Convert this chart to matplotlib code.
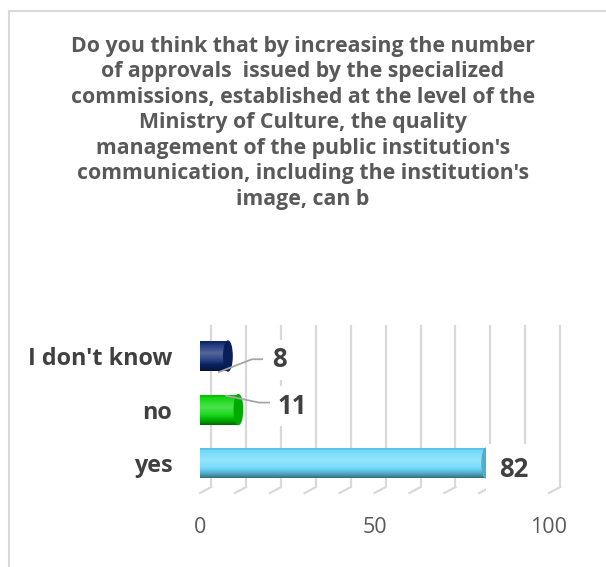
import numpy as np
import matplotlib.pyplot as plt
from matplotlib.patches import Ellipse
from matplotlib.colors import to_rgb

plt.rcParams['font.family'] = ['Open Sans', 'DejaVu Sans']

title = ("Do you think that by increasing the number\n"
         "of approvals  issued by the specialized\n"
         "commissions, established at the level of the\n"
         "Ministry of Culture, the quality\n"
         "management of the public institution's\n"
         "communication, including the institution's\n"
         "image, can b")

answers = ["yes", "no", "I don't know"]
counts = [82, 11, 8]
bar_colors = ["#66d8fc", "#00d400", "#0c2670"]
xticks = [0, 50, 100]

# label placement relative to each bar end (dx, dy), box padding, leader line points
label_offsets = [(3.6, -0.13), (11.3, 0.06), (12.6, -0.07)]
label_pads = [0.48, 0.25, 0.25]
leaders = [None,
           [(-3.6, 0.26), (5.9, 0.13), (8.8, 0.13)],
           [(-2.6, -0.30), (6.9, -0.06), (9.8, -0.06)]]

fig = plt.figure(figsize=(6.06, 5.67), dpi=100)
ax = fig.add_axes([200/606, 74/567, 349/606, 168/567])

# back wall grid with a short floor stroke, like a 3-D chart
depth = 3.2
for g in range(0, 101, 10):
    ax.plot([g + depth, g + depth], [-0.45, 2.58], color="#d9d9d9", lw=1.6,
            clip_on=False, zorder=0, solid_capstyle="butt")
    ax.plot([g + depth, g], [-0.45, -0.56], color="#d9d9d9", lw=1.6,
            clip_on=False, zorder=0)

y = np.arange(len(answers))
bar_h = 0.56
bars = ax.barh(y, counts, height=bar_h, color=bar_colors, zorder=2)


def shade(color, n=64):
    base = np.array(to_rgb(color))
    t = np.linspace(0, 1, n)
    light = 0.3 * np.clip(1 - np.abs(t - 0.4) / 0.4, 0, 1)
    dark = 0.5 * np.clip((t - 0.6) / 0.4, 0, 1) ** 1.8 + 0.1 * (t < 0.05)
    rows = base * (1 - dark[:, None]) + (1 - base) * light[:, None]
    return rows[:, None, :]


for bar, c, v, yc in zip(bars, bar_colors, counts, y):
    img = ax.imshow(shade(c), extent=[0, v, yc - bar_h / 2, yc + bar_h / 2],
                    aspect="auto", zorder=3, interpolation="bilinear")
    img.set_clip_path(bar)
    cap = Ellipse((v, yc), 2.4, bar_h, color=np.array(to_rgb(c)) * 0.8, zorder=4)
    ax.add_patch(cap)

for i, (v, yc) in enumerate(zip(counts, y)):
    if leaders[i] is not None:
        pts = np.array(leaders[i])
        ax.plot(v + pts[:, 0], yc + pts[:, 1], color="#a6a6a6", lw=1.3,
                zorder=5, clip_on=False)
    dx, dy = label_offsets[i]
    ax.text(v + dx, yc + dy, str(v), ha="left", va="center", fontsize=18.5,
            weight="bold", color="#404040", zorder=6,
            bbox=dict(boxstyle=f"square,pad={label_pads[i]}", fc="white", ec="none"))

ax.set_xlim(0, 100)
ax.set_ylim(-0.56, 2.58)
ax.set_xticks(xticks)
ax.set_xticklabels([str(t) for t in xticks], fontsize=15.5, color="#595959")
ax.set_yticks(y)
ax.set_yticklabels(answers, fontsize=16.8, weight="bold", color="#404040")
ax.tick_params(axis="x", length=0, pad=17)
ax.tick_params(axis="y", length=0, pad=20)
for s in ax.spines.values():
    s.set_visible(False)
ax.patch.set_alpha(0)

fig.text(0.5, 1 - 36/567, title, ha="center", va="top", fontsize=15.3,
         weight="bold", color="#595959", linespacing=1.28)

# chart area border (left and top edges)
fig.add_artist(plt.Line2D([8.5/606, 8.5/606], [0, 1 - 10.5/567],
                          transform=fig.transFigure, color="#d9d9d9", lw=1.5))
fig.add_artist(plt.Line2D([8.5/606, 1], [1 - 10.5/567, 1 - 10.5/567],
                          transform=fig.transFigure, color="#d9d9d9", lw=1.5))

fig.savefig("out.png", dpi=100)
